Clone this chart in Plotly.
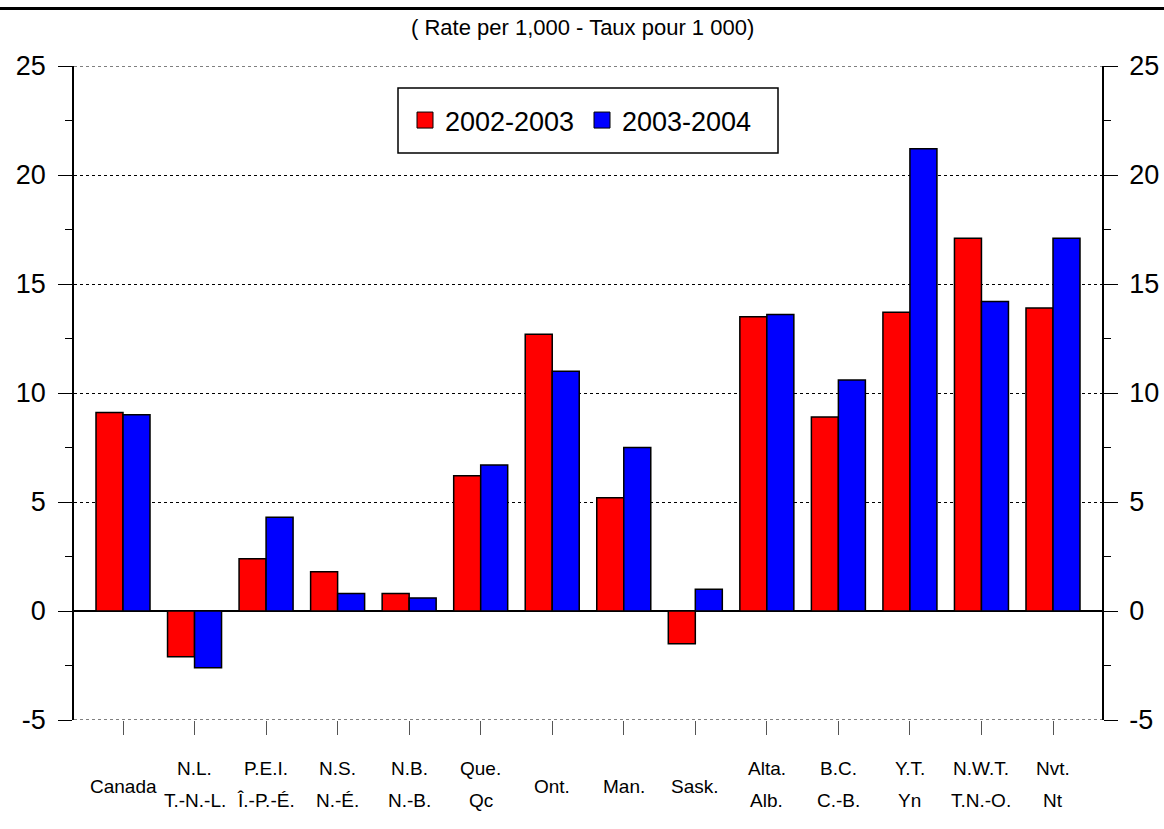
import plotly.graph_objects as go

# ---- data ----
categories = ["Canada", "N.L.", "P.E.I.", "N.S.", "N.B.", "Que.", "Ont.",
              "Man.", "Sask.", "Alta.", "B.C.", "Y.T.", "N.W.T.", "Nvt."]
labels_fr = ["", "T.-N.-L.", "Î.-P.-É.", "N.-É.", "N.-B.", "Qc", "",
             "", "", "Alb.", "C.-B.", "Yn", "T.N.-O.", "Nt"]
series_names = ["2002-2003", "2003-2004"]
rate_2002_2003 = [9.1, -2.1, 2.4, 1.8, 0.8, 6.2, 12.7, 5.2, -1.5, 13.5, 8.9, 13.7, 17.1, 13.9]
rate_2003_2004 = [9.0, -2.6, 4.3, 0.8, 0.6, 6.7, 11.0, 7.5, 1.0, 13.6, 10.6, 21.2, 14.2, 17.1]
y_ticks = [-5, 0, 5, 10, 15, 20, 25]
y_ticktext = ["-5", "0", "5", "10", "15", "20", "25"]
subtitle = "( Rate per 1,000 - Taux pour 1 000)"

colors = ["#ff0000", "#0000ff"]
FONT = "Liberation Sans, Arial, sans-serif"

W, H = 1164, 829
ML, MR, MT, MB = 74, 62, 66, 109
PW, PH = W - ML - MR, H - MT - MB

def px_to_paper_x(px):
    return (px - ML) / PW

def px_to_paper_y(py):
    return (H - MB - py) / PH

fig = go.Figure()
for name, vals, col in zip(series_names, [rate_2002_2003, rate_2003_2004], colors):
    fig.add_trace(go.Bar(
        x=categories, y=vals, name=name, showlegend=False,
        marker=dict(color=col, line=dict(color="black", width=1.5)),
    ))
# legend entries (larger square symbols), attached to right axis
for name, col in zip(series_names, colors):
    fig.add_trace(go.Scatter(
        x=[categories[0]], y=[None], name=name, mode="markers", yaxis="y2",
        marker=dict(symbol="square", size=16, color=col, line=dict(color="black", width=1)),
        hoverinfo="skip",
    ))

yax_common = dict(
    range=[-5, 25], tickvals=y_ticks, ticktext=y_ticktext, ticks="outside", ticklen=14, tickwidth=1,
    tickcolor="black", showline=True, linecolor="black", linewidth=1.5,
    tickfont=dict(family=FONT, size=27, color="black"),
    minor=dict(dtick=2.5, tick0=0, ticks="outside", ticklen=7, tickcolor="black", showgrid=False),
    fixedrange=True, automargin=False,
)

fig.update_layout(
    width=W, height=H,
    margin=dict(l=ML, r=MR, t=MT, b=MB, autoexpand=False),
    paper_bgcolor="white", plot_bgcolor="white",
    barmode="group", bargap=0.245, bargroupgap=0,
    font=dict(family=FONT, color="black"),
    xaxis=dict(type="category", range=[-0.685, 13.685], ticks="outside", ticklen=14,
               tickcolor="#555", tickwidth=1, showticklabels=False, showgrid=False,
               showline=False, zeroline=False, fixedrange=True, automargin=False),
    yaxis=dict(**yax_common, showgrid=True, gridcolor="#000", griddash="dot", gridwidth=1,
               zeroline=True, zerolinecolor="black", zerolinewidth=2, ticklabelstandoff=7),
    yaxis2=dict(**yax_common, overlaying="y", side="right", showgrid=False, zeroline=False,
                ticklabelstandoff=6),
    legend=dict(orientation="h", x=px_to_paper_x(405), y=px_to_paper_y(120.5),
                xanchor="left", yanchor="middle", borderwidth=0,
                bgcolor="rgba(0,0,0,0)", font=dict(family=FONT, size=27, color="black"),
                entrywidth=132, entrywidthmode="pixels"),
    showlegend=True,
)

# top rule
fig.add_shape(type="line", xref="paper", yref="paper",
              x0=px_to_paper_x(0), x1=px_to_paper_x(W),
              y0=px_to_paper_y(8.5), y1=px_to_paper_y(8.5),
              line=dict(color="black", width=3))
# dotted gridlines at the range ends (hidden by plotly at the plot edges)
for yv in (y_ticks[0], y_ticks[-1]):
    fig.add_shape(type="line", xref="paper", yref="y", x0=0, x1=1, y0=yv, y1=yv,
                  line=dict(color="#000", width=1, dash="dot"), layer="below")
# legend frame
fig.add_shape(type="rect", xref="paper", yref="paper",
              x0=px_to_paper_x(398), x1=px_to_paper_x(778),
              y0=px_to_paper_y(88), y1=px_to_paper_y(153),
              line=dict(color="black", width=1.5), fillcolor="white", layer="above")

annotations = [dict(text=subtitle, xref="paper", yref="paper",
                    x=px_to_paper_x(W / 2), y=px_to_paper_y(28),
                    xanchor="center", yanchor="middle", showarrow=False,
                    font=dict(family=FONT, size=22, color="black"))]
for cat, fr in zip(categories, labels_fr):
    if fr:
        annotations.append(dict(text=cat, x=cat, xref="x", yref="paper", y=px_to_paper_y(768),
                                xanchor="center", yanchor="middle", showarrow=False,
                                font=dict(family=FONT, size=19, color="black")))
        annotations.append(dict(text=fr, x=cat, xref="x", yref="paper", y=px_to_paper_y(800),
                                xanchor="center", yanchor="middle", showarrow=False,
                                font=dict(family=FONT, size=19, color="black")))
    else:
        annotations.append(dict(text=cat, x=cat, xref="x", yref="paper", y=px_to_paper_y(786),
                                xanchor="center", yanchor="middle", showarrow=False,
                                font=dict(family=FONT, size=19, color="black")))
fig.update_layout(annotations=annotations)

fig.write_html("out.html", config={"displayModeBar": False},
               post_script="document.body.style.margin='0';document.body.style.padding='0';")
